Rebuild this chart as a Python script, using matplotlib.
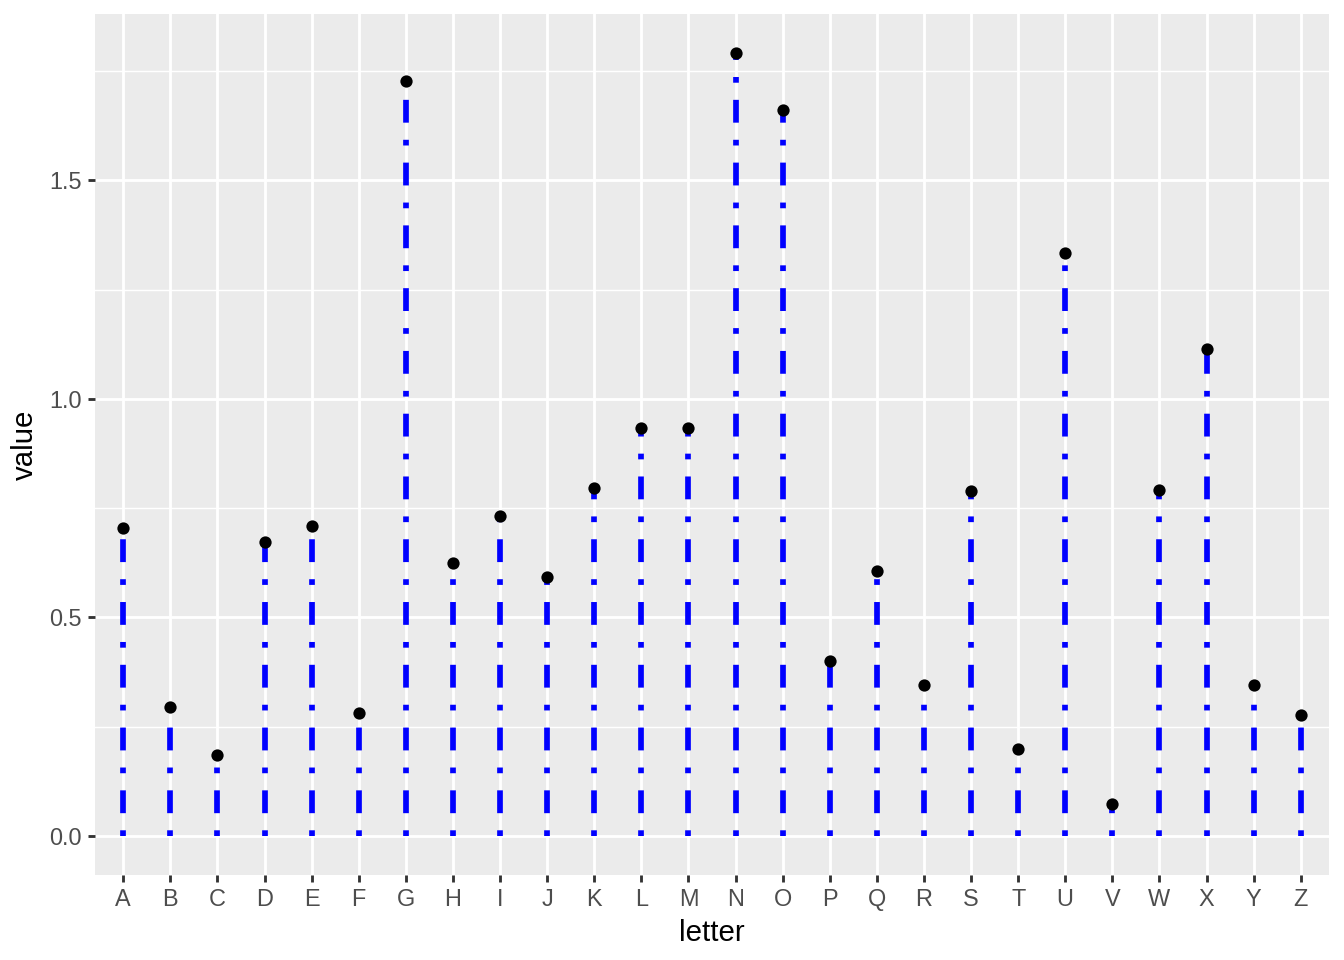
import matplotlib
matplotlib.use("Agg")
import matplotlib.pyplot as plt
import numpy as np

letters = list("ABCDEFGHIJKLMNOPQRSTUVWXYZ")
values = [0.705, 0.295, 0.185, 0.673, 0.708, 0.282, 1.727, 0.625, 0.733, 0.593,
          0.797, 0.934, 0.934, 1.791, 1.660, 0.401, 0.605, 0.346, 0.790, 0.199,
          1.333, 0.073, 0.792, 1.113, 0.346, 0.277]
yticks = [0.0, 0.5, 1.0, 1.5]
yticklabels = ["0.0", "0.5", "1.0", "1.5"]

plt.rcParams['font.family'] = ['Liberation Sans', 'DejaVu Sans']

fig = plt.figure(figsize=(7, 5), dpi=192)
ax = fig.add_axes([95/1344, 1-875/960, (1329-95)/1344, (875-14)/960])
ax.set_facecolor("#EBEBEB")

x = np.arange(len(letters))
lw = 2.14
for xi, v in zip(x, values):
    ax.plot([xi, xi], [0, v], color="blue", lw=lw, solid_capstyle="butt",
            dash_capstyle="butt", linestyle=(0, (1, 3, 4, 3)), zorder=3)
ax.plot(x, values, 'o', color="black", markersize=4.6, markeredgewidth=0, zorder=4)

ymin, ymax = 0, max(values)
pad = 0.05 * (ymax - ymin)
ax.set_ylim(ymin - pad, ymax + pad)
ax.set_xlim(-0.6, len(letters) - 1 + 0.6)

ax.set_xticks(x)
ax.set_xticklabels(letters)
ax.set_yticks(yticks)
ax.set_yticklabels(yticklabels)
ax.set_yticks([0.25, 0.75, 1.25, 1.75], minor=True)

ax.grid(which="major", color="white", lw=1.07, zorder=0)
ax.grid(which="minor", axis="y", color="white", lw=0.53, zorder=0)
ax.set_axisbelow(True)
for s in ax.spines.values():
    s.set_visible(False)

ax.tick_params(axis="both", which="major", length=2.75, width=1.07, color="#333333",
               labelsize=8.8, labelcolor="#4D4D4D", pad=2.2)
ax.tick_params(axis="both", which="minor", length=0)

ax.set_xlabel("letter", fontsize=11, color="black", labelpad=3)
ax.set_ylabel("value", fontsize=11, color="black", labelpad=4)

fig.savefig("out.png", dpi=192, facecolor="white")
